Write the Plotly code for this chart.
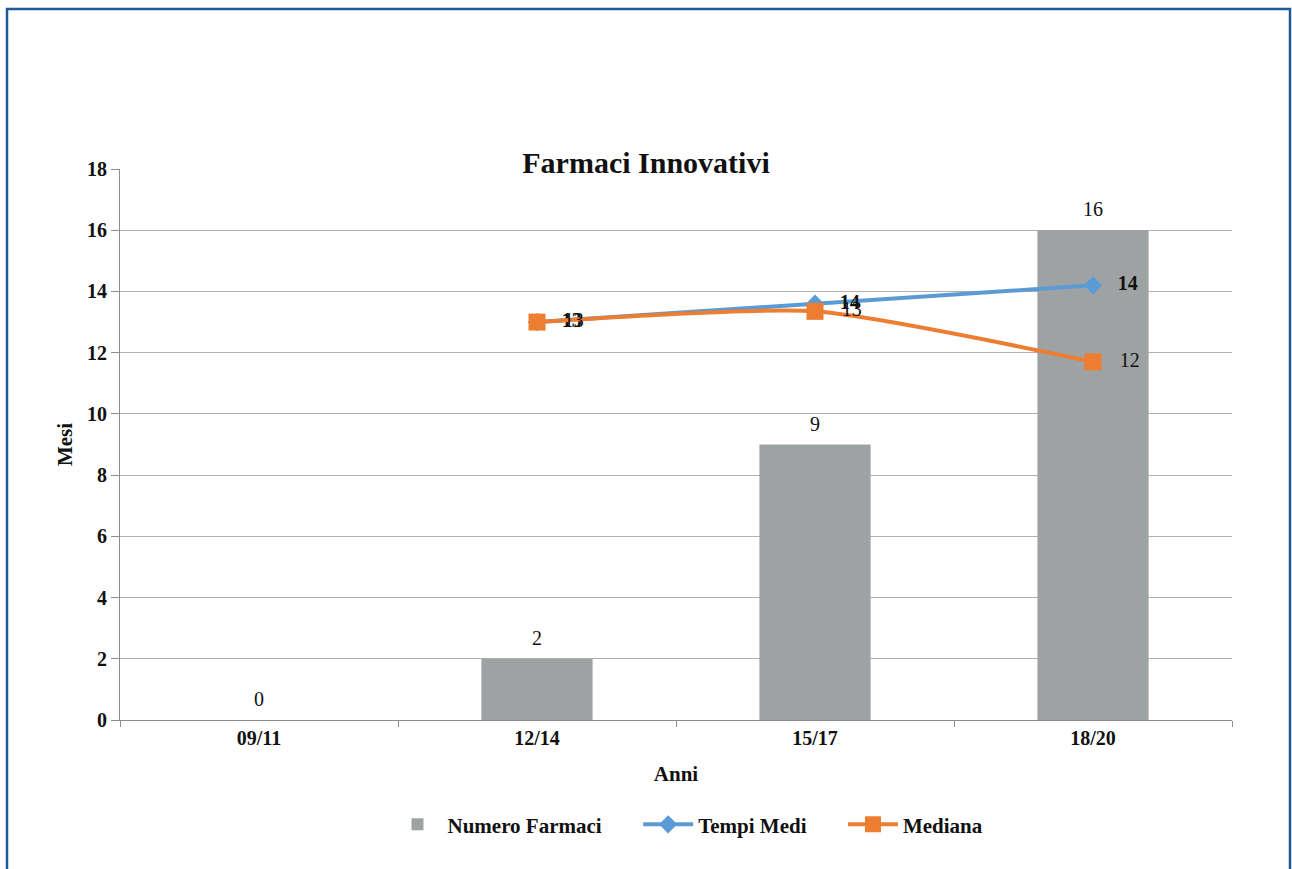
import plotly.graph_objects as go

categories = ["09/11", "12/14", "15/17", "18/20"]
numero_farmaci = [0, 2, 9, 16]
tempi_cat = ["12/14", "15/17", "18/20"]
tempi_medi = [13.0, 13.6, 14.2]
tempi_labels = ["13", "14", "14"]
mediana = [13.0, 13.35, 11.7]
mediana_labels = ["13", "13", "12"]
y_ticks = [0, 2, 4, 6, 8, 10, 12, 14, 16, 18]

SERIF = "Liberation Serif, Times New Roman, serif"
PAD = "\u00a0\u00a0\u00a0"
GAP = "\u00a0" * 6

fig = go.Figure()
fig.add_trace(go.Bar(
    x=categories, y=numero_farmaci, name="Numero Farmaci" + GAP,
    marker=dict(color="#9fa2a3", line=dict(width=0)),
    width=0.4,
))
fig.add_trace(go.Scatter(
    x=tempi_cat, y=tempi_medi, name="Tempi Medi" + GAP, mode="lines+markers+text",
    line=dict(color="#5b9bd5", width=4, shape="spline", smoothing=0.6),
    marker=dict(symbol="diamond", size=14, color="#5b9bd5"),
    text=[PAD + t for t in tempi_labels], textposition="middle right",
    textfont=dict(family=SERIF, size=20, color="#111", weight="bold"),
    cliponaxis=False,
))
fig.add_trace(go.Scatter(
    x=tempi_cat, y=mediana, name="Mediana", mode="lines+markers+text",
    line=dict(color="#ed7d31", width=4, shape="spline", smoothing=0.6),
    marker=dict(symbol="square", size=17, color="#ed7d31"),
    text=[PAD + t for t in mediana_labels], textposition="middle right",
    textfont=dict(family=SERIF, size=20, color="#111"),
    cliponaxis=False,
))

for c, v in zip(categories, numero_farmaci):
    fig.add_annotation(x=c, y=v, text=str(v), showarrow=False, yanchor="bottom", yshift=8,
                       font=dict(family=SERIF, size=20, color="#111"))

fig.update_layout(
    width=1292, height=869,
    paper_bgcolor="white", plot_bgcolor="white",
    margin=dict(l=120, r=60, t=169, b=149),
    font=dict(family=SERIF, color="#111"),
    title=dict(text="<b>Farmaci Innovativi</b>", x=(646 - 120) / 1112, xref="paper", xanchor="center",
               y=1 - 162 / 869, yanchor="middle", yref="container",
               font=dict(family=SERIF, size=30, color="#111")),
    showlegend=True,
    legend=dict(orientation="h", x=(688 - 120) / 1112, xanchor="center", y=-0.19, yanchor="middle",
                font=dict(family=SERIF, size=21, color="#111", weight="bold"),
                traceorder="normal", itemwidth=50),
    bargap=0.6,
)
fig.update_xaxes(
    type="category", categoryorder="array", categoryarray=categories,
    showline=True, linecolor="#8c8c8c", linewidth=1,
    ticks="outside", tickson="boundaries", ticklen=6, tickcolor="#8c8c8c",
    tickfont=dict(family=SERIF, size=20, color="#111", weight="bold"),
    title=dict(text="<b>Anni</b>", font=dict(family=SERIF, size=21, color="#111"), standoff=18),
    showgrid=False, range=[-0.5, 3.5],
)
fig.update_yaxes(
    range=[0, 18], tickvals=y_ticks, ticktext=[str(v) for v in y_ticks],
    showline=True, linecolor="#8c8c8c", linewidth=1,
    ticks="outside", ticklen=8, tickcolor="#8c8c8c",
    showgrid=True, gridcolor="#b0b0b0", gridwidth=1,
    tickfont=dict(family=SERIF, size=20, color="#111", weight="bold"),
    title=dict(text="<b>Mesi</b>", font=dict(family=SERIF, size=21, color="#111"), standoff=8),
    zeroline=False,
)

# outer frame
fig.add_shape(type="rect", xref="paper", yref="paper",
              x0=(7 - 120) / 1112, x1=(1290 - 120) / 1112,
              y0=(720 - 920) / 551, y1=(720 - 9) / 551,
              line=dict(color="#1f5a96", width=2.5), fillcolor="rgba(0,0,0,0)", layer="below")

fig.write_html("out.html", config={"displayModeBar": False},
               post_script="document.body.style.margin='0';document.body.style.overflow='hidden';")
